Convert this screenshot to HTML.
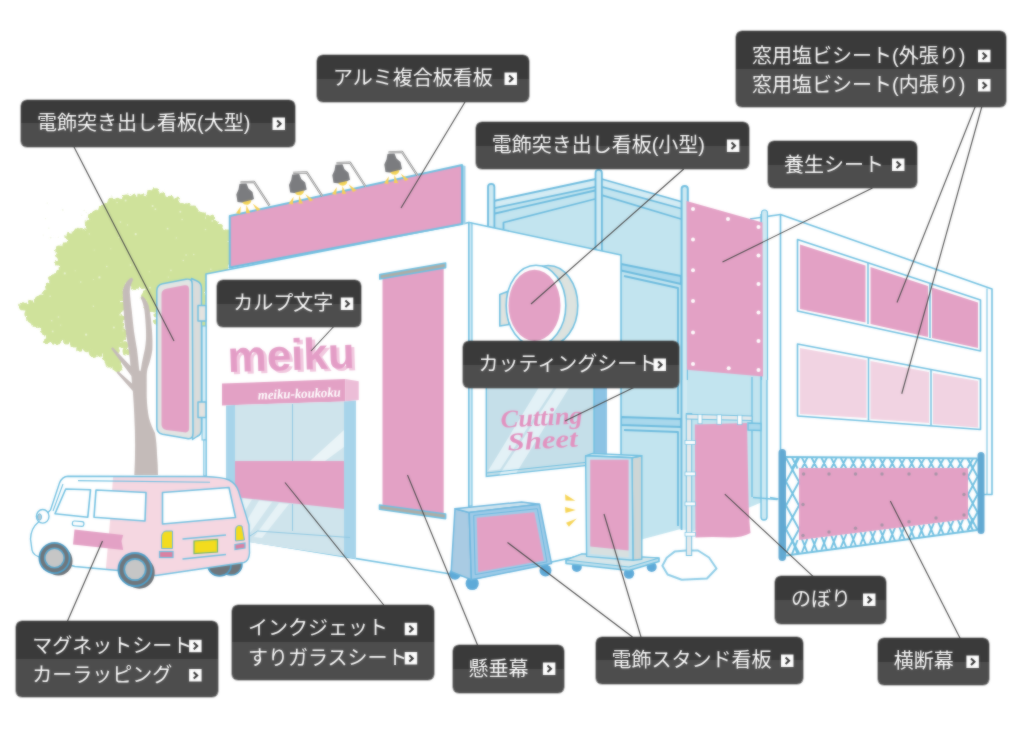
<!DOCTYPE html>
<html lang="ja"><head><meta charset="utf-8"><title>看板・サイン イラストマップ</title>
<style>
html,body{margin:0;padding:0;background:#fff}
body{width:1024px;height:735px;position:relative;overflow:hidden;font-family:"Liberation Sans","Noto Sans CJK JP",sans-serif}
#map{position:absolute;left:0;top:0;width:1024px;height:735px;overflow:hidden;filter:url(#soft)}
#illus{position:absolute;left:0;top:0}
.lb{position:absolute;display:block;border-radius:6px;box-sizing:border-box;
 background:linear-gradient(#3a3a3a 0,#3a3a3a 50%,#4d4d4d 50%,#4d4d4d 100%);
 box-shadow:0 0 0 0.6px rgba(40,40,40,.55);text-decoration:none;overflow:hidden}
.lb svg{position:absolute;left:0;top:0;fill:#fff}
.lb svg .ch{fill:none;stroke:#333;stroke-width:2}
.lb span{position:absolute;left:16px;font-size:20px;line-height:24px;white-space:nowrap;color:#fff;font-family:"Liberation Sans","Noto Sans CJK JP",sans-serif}
</style></head><body>
<svg width="0" height="0" style="position:absolute"><filter id="soft" x="0" y="0" width="100%" height="100%" color-interpolation-filters="sRGB"><feGaussianBlur stdDeviation="0.85" result="b"/><feComposite in="SourceGraphic" in2="b" operator="arithmetic" k1="0" k2="0.45" k3="0.55" k4="0"/></filter></svg>
<div id="map">
<svg id="illus" width="1024" height="735" viewBox="0 0 1024 735">
<defs>
<filter id="rough" x="-5%" y="-5%" width="110%" height="110%"><feTurbulence type="fractalNoise" baseFrequency="0.2" numOctaves="2" seed="3" result="n"/><feDisplacementMap in="SourceGraphic" in2="n" scale="5" xChannelSelector="R" yChannelSelector="G"/></filter>
</defs>
<g filter="url(#rough)" fill="#cfe29b"><polygon points="155.781,193.52 171.393,198.293 187.999,207.959 203.719,216.625 214.556,224.367 227.426,232.102 227.217,268.308 203.213,272.268 203.527,328.687 197.565,328.617 157,322 152,298 142,285 125,281 121,292 119,312 121,338 118,352 116,366 110.113,365.202 105.311,354.217 92.7903,351.314 79.2796,347.509 65.7452,340.81 46.1028,340.151 42.2989,330.401 34.4751,322.691 26.6066,314.977 23.687,307.212 31.7008,303.261 45.7528,293.488 53.7984,282.905 60.7648,272.442 57.6647,262.86 58.4307,249.39 65.24,244.68 68.972,235.988 87.2547,228.503 92.8573,216.666 102.431,209.767 113.017,201.8 126.566,197.766 142.091,197.648"/><circle cx="155.3" cy="192.5" r="4.3"/><circle cx="162.3" cy="196.0" r="3.5"/><circle cx="170.1" cy="198.3" r="2.6"/><circle cx="176.7" cy="200.2" r="2.7"/><circle cx="182.2" cy="205.7" r="2.8"/><circle cx="187.2" cy="208.3" r="5.1"/><circle cx="193.5" cy="210.5" r="5.1"/><circle cx="197.1" cy="214.8" r="3.3"/><circle cx="202.7" cy="215.5" r="3.3"/><circle cx="210.1" cy="219.5" r="4.1"/><circle cx="215.0" cy="224.0" r="4.0"/><circle cx="219.7" cy="226.9" r="3.1"/><circle cx="228.0" cy="231.9" r="3.3"/><circle cx="227.6" cy="238.0" r="3.3"/><circle cx="228.2" cy="244.8" r="3.2"/><circle cx="227.5" cy="250.3" r="4.9"/><circle cx="228.0" cy="255.6" r="5.1"/><circle cx="226.1" cy="262.0" r="4.5"/><circle cx="226.2" cy="268.3" r="2.6"/><circle cx="221.7" cy="270.1" r="4.0"/><circle cx="216.3" cy="269.7" r="4.4"/><circle cx="209.5" cy="271.5" r="3.7"/><circle cx="204.2" cy="273.6" r="3.8"/><circle cx="203.7" cy="276.6" r="4.4"/><circle cx="203.7" cy="285.0" r="4.7"/><circle cx="202.7" cy="288.9" r="4.3"/><circle cx="201.9" cy="294.7" r="3.0"/><circle cx="202.2" cy="299.2" r="4.6"/><circle cx="202.3" cy="305.4" r="3.6"/><circle cx="204.5" cy="310.5" r="3.7"/><circle cx="203.6" cy="318.6" r="4.7"/><circle cx="204.6" cy="322.4" r="3.6"/><circle cx="203.1" cy="329.8" r="5.1"/><circle cx="196.5" cy="327.6" r="3.1"/><circle cx="191.0" cy="327.6" r="4.1"/><circle cx="185.3" cy="325.2" r="3.6"/><circle cx="179.8" cy="326.0" r="5.1"/><circle cx="175.0" cy="324.9" r="4.2"/><circle cx="169.1" cy="322.6" r="4.9"/><circle cx="163.6" cy="324.1" r="4.7"/><circle cx="156.7" cy="321.7" r="2.8"/><circle cx="156.2" cy="314.7" r="2.7"/><circle cx="153.6" cy="309.0" r="3.4"/><circle cx="151.9" cy="302.5" r="2.9"/><circle cx="150.8" cy="297.6" r="2.6"/><circle cx="148.1" cy="291.8" r="2.9"/><circle cx="141.3" cy="284.5" r="3.5"/><circle cx="135.2" cy="284.7" r="5.2"/><circle cx="130.6" cy="282.3" r="2.7"/><circle cx="123.8" cy="280.5" r="3.2"/><circle cx="124.0" cy="285.5" r="2.6"/><circle cx="122.4" cy="292.1" r="2.9"/><circle cx="120.5" cy="297.2" r="3.9"/><circle cx="121.1" cy="306.4" r="4.4"/><circle cx="118.3" cy="311.6" r="3.0"/><circle cx="120.3" cy="318.6" r="4.6"/><circle cx="119.5" cy="324.2" r="4.7"/><circle cx="122.0" cy="332.6" r="4.7"/><circle cx="122.0" cy="338.7" r="3.1"/><circle cx="119.6" cy="344.6" r="2.6"/><circle cx="116.6" cy="351.3" r="3.2"/><circle cx="117.6" cy="360.4" r="3.7"/><circle cx="117.3" cy="367.5" r="5.1"/><circle cx="109.7" cy="364.4" r="3.1"/><circle cx="106.8" cy="358.8" r="4.2"/><circle cx="106.5" cy="355.2" r="3.8"/><circle cx="99.5" cy="353.7" r="2.7"/><circle cx="93.3" cy="352.5" r="4.6"/><circle cx="86.8" cy="349.3" r="3.0"/><circle cx="80.1" cy="347.0" r="4.7"/><circle cx="73.9" cy="343.8" r="3.6"/><circle cx="67.1" cy="341.5" r="3.0"/><circle cx="58.1" cy="339.5" r="4.9"/><circle cx="53.6" cy="339.3" r="4.7"/><circle cx="47.5" cy="340.6" r="3.4"/><circle cx="42.4" cy="329.3" r="2.5"/><circle cx="35.9" cy="323.1" r="3.9"/><circle cx="31.8" cy="318.6" r="4.9"/><circle cx="27.6" cy="314.1" r="3.2"/><circle cx="23.1" cy="306.4" r="4.1"/><circle cx="31.0" cy="303.0" r="2.9"/><circle cx="37.6" cy="299.6" r="3.7"/><circle cx="41.3" cy="298.0" r="3.6"/><circle cx="47.0" cy="293.5" r="3.9"/><circle cx="49.8" cy="286.8" r="3.7"/><circle cx="52.8" cy="281.4" r="4.7"/><circle cx="56.3" cy="277.6" r="4.5"/><circle cx="60.9" cy="271.9" r="3.9"/><circle cx="57.8" cy="263.7" r="2.8"/><circle cx="58.2" cy="255.4" r="3.2"/><circle cx="59.2" cy="249.4" r="4.0"/><circle cx="66.0" cy="245.9" r="3.7"/><circle cx="69.3" cy="236.0" r="3.9"/><circle cx="75.6" cy="233.3" r="3.9"/><circle cx="81.1" cy="232.3" r="4.4"/><circle cx="88.4" cy="229.8" r="3.2"/><circle cx="90.2" cy="223.9" r="4.8"/><circle cx="91.8" cy="215.5" r="3.7"/><circle cx="96.4" cy="212.4" r="2.7"/><circle cx="102.9" cy="210.6" r="4.9"/><circle cx="106.7" cy="206.4" r="4.3"/><circle cx="111.9" cy="202.9" r="5.1"/><circle cx="119.0" cy="201.1" r="3.6"/><circle cx="126.5" cy="199.2" r="4.7"/><circle cx="133.3" cy="197.5" r="3.9"/><circle cx="141.6" cy="196.7" r="3.4"/><circle cx="149.6" cy="194.1" r="4.0"/><circle cx="147" cy="296" r="6"/><circle cx="150" cy="306" r="6"/><circle cx="126" cy="300" r="4"/><circle cx="124" cy="345" r="4"/><circle cx="126" cy="352" r="3.5"/></g>
<g fill="#eef5dc" opacity=".8"><circle cx="117.1" cy="202.5" r="0.7"/><circle cx="149.2" cy="271.7" r="0.5"/><circle cx="212.4" cy="310.4" r="1.1"/><circle cx="58.3" cy="237.2" r="0.5"/><circle cx="176.3" cy="237.9" r="0.6"/><circle cx="113.9" cy="327.6" r="1.0"/><circle cx="85.3" cy="220.9" r="1.1"/><circle cx="139.9" cy="298.1" r="0.6"/><circle cx="50.1" cy="296.3" r="0.8"/><circle cx="52.7" cy="331.4" r="0.9"/><circle cx="180.3" cy="211.7" r="1.0"/><circle cx="51.7" cy="320.8" r="0.8"/><circle cx="99.4" cy="277.4" r="1.1"/><circle cx="86.9" cy="218.1" r="0.8"/><circle cx="81.7" cy="215.3" r="0.6"/><circle cx="48.8" cy="228.2" r="0.7"/><circle cx="93.4" cy="306.3" r="0.7"/><circle cx="127.5" cy="224.9" r="0.7"/><circle cx="43.2" cy="235.1" r="0.5"/><circle cx="168.3" cy="277.1" r="0.6"/><circle cx="123.1" cy="330.8" r="0.6"/><circle cx="183.3" cy="260.5" r="0.8"/><circle cx="186.1" cy="255.0" r="0.8"/><circle cx="160.4" cy="337.5" r="0.7"/><circle cx="185.7" cy="298.9" r="0.9"/><circle cx="110.8" cy="248.7" r="0.5"/><circle cx="62.7" cy="209.9" r="0.9"/><circle cx="84.7" cy="222.9" r="0.6"/><circle cx="187.2" cy="321.9" r="0.9"/><circle cx="89.3" cy="233.9" r="0.7"/><circle cx="120.4" cy="222.1" r="0.8"/><circle cx="86.1" cy="334.7" r="1.1"/><circle cx="135.7" cy="234.2" r="1.1"/><circle cx="94.2" cy="249.9" r="0.5"/><circle cx="106.8" cy="266.5" r="0.8"/><circle cx="75.2" cy="270.7" r="0.5"/><circle cx="86.2" cy="212.6" r="0.7"/><circle cx="47.3" cy="203.1" r="0.7"/><circle cx="80.7" cy="282.0" r="0.8"/><circle cx="171.3" cy="292.1" r="0.9"/><circle cx="193.8" cy="254.5" r="0.7"/><circle cx="212.3" cy="220.9" r="0.9"/><circle cx="152.6" cy="206.1" r="1.0"/><circle cx="196.1" cy="287.8" r="0.9"/><circle cx="182.1" cy="219.5" r="0.8"/><circle cx="128.3" cy="316.9" r="1.0"/><circle cx="184.6" cy="281.8" r="1.0"/><circle cx="159.5" cy="297.1" r="0.6"/><circle cx="45.5" cy="218.6" r="0.7"/><circle cx="58.4" cy="317.0" r="0.8"/><circle cx="149.9" cy="287.7" r="0.9"/><circle cx="125.6" cy="200.5" r="1.0"/><circle cx="170.9" cy="270.4" r="0.8"/><circle cx="155.4" cy="209.2" r="0.9"/><circle cx="84.1" cy="210.4" r="0.7"/><circle cx="167.6" cy="228.7" r="0.9"/><circle cx="210.8" cy="269.2" r="0.7"/><circle cx="123.8" cy="295.7" r="1.0"/><circle cx="148.0" cy="290.0" r="0.5"/><circle cx="65.8" cy="235.6" r="0.9"/><circle cx="93.3" cy="279.5" r="0.5"/><circle cx="50.6" cy="237.6" r="0.9"/><circle cx="161.1" cy="294.6" r="0.7"/><circle cx="130.4" cy="265.1" r="0.8"/><circle cx="60.7" cy="325.1" r="0.6"/><circle cx="211.2" cy="331.1" r="0.5"/><circle cx="120.3" cy="314.8" r="1.1"/><circle cx="118.7" cy="237.6" r="0.6"/><circle cx="205.5" cy="229.5" r="0.8"/><circle cx="64.8" cy="273.4" r="1.1"/></g>
<path fill="#c4bbb9" d="M134.3 475 C135.5 455 135.3 435 134.3 416 C133.8 405 133.3 397 132.8 391 L116.5 372.5 L118 371 L132 383.5 L131.4 376 L111 348.5 L112.8 347.2 L130.5 366 C130 360 129.3 355 128.6 349.5 C127.5 343 126.5 337 125.7 331.6 C124.8 325 124 318 123.7 311 C123.2 304 122.8 297 122.7 291 C124 285 127 280 131.5 277.5 L133.3 279.3 C131 284 129.8 288 129.8 292 C130.3 298 131 305 131.8 311 C132.5 318 133.2 325 134 331.6 C135 338 136 344 137 349.5 C137.8 356 138.5 362 139 368 C139.5 372 140.5 372.5 141 368.6 C142 362 143.5 355 144.8 349.5 C146 343 146.3 337 146 331 C145.7 323 145.2 317 144.5 311 C143.8 306 142.5 301 140.5 297.5 L142.3 296 C145 298 147 301 148.5 305 C150 310 151.2 320 152 331 C152.5 338 152.6 344 152.4 349.5 C151.5 357 149.5 363 147.6 368.6 C146.8 372 146.7 375 146.7 378 C146.7 385 146.7 391 146.7 397 C147 405 147.8 412 149 418 C150.5 424 153 429 155 433 C156.2 440 156.8 447 157 454 C157.5 461 158 468 158 475 Z"/>
<g stroke="#6bbadd" stroke-width="1.8" stroke-linejoin="round">
<polygon fill="#c2e4ef" stroke="none" points="491,202 598,178.5 684.5,203 684.5,528 621,545 621,255 491,228"/>
<polygon fill="#d4ecf4" points="491,201.5 598,178.5 598,186.3 491,208.8"/>
<polygon fill="#d4ecf4" points="600,178.5 684.5,202.5 684.5,209.5 600,186.3"/>
<polyline fill="none" points="495,213.5 595,190.5"/>
<polyline fill="none" points="503.5,229 503.5,222.5 595,199"/>
<polyline fill="none" points="602.5,195.3 681,219"/>
<path fill="#cfeaf3" d="M488 228V187a3.2 3.2 0 0 1 6.4 0V228"/>
<path fill="#cfeaf3" d="M595.5 252V173a3.2 3.2 0 0 1 6.4 0V252"/>
<path fill="#cfeaf3" d="M681.5 530V189a3.2 3.2 0 0 1 6.4 0V530"/>
<polygon fill="#a9d8ec" points="621,264 681,276 681,284 621,270.5"/>
<polyline fill="none" points="624,276 678,288 678,414"/>
<polygon fill="#a9d8ec" points="621,417 681,419 681,427 621,425"/>
<polyline fill="none" points="624,430 678,432 678,526"/>
</g>
<g stroke="#6fbfe0" stroke-width="1.4">
<polygon fill="#c2e4ef" stroke="none" points="687,368 767,375 767,500 687,534"/>
<path fill="none" d="M752 377V497"/>
<path fill="#cdeaf4" d="M761 214V517a3 3 0 0 0 6 0V214"/>
<polygon fill="#a9d8ec" points="748,423 761,423.5 761,430.5 748,430"/>
<path fill="none" d="M753 497.5L777.5 499.5"/>
</g>
<g stroke="#6fbfe0" stroke-width="1.6" fill="#fff" stroke-linejoin="round">
<polyline points="780.5,450 780.5,214.5 992,289 992,494.5 984,494.5"/>
<polyline fill="none" points="770,497.5 778.5,499"/>
<polyline fill="none" stroke-width="1.1" points="987,288.5 987,494"/>
<polyline fill="none" points="750,219 780.5,214.5"/>
<polygon points="797.5,239.5 980.5,300 980.5,351 797.5,311"/>
<polygon points="797.5,344 980.5,379 980.5,429.5 797.5,416"/>
</g>
<polygon fill="#e3a1c5" points="800,244.5 865.5,265.5 865.5,322.5 800,309"/>
<polygon fill="#e3a1c5" points="870.5,267 928,286 928,337 870.5,324"/>
<polygon fill="#e3a1c5" points="932,287.5 978,302.5 978,348 932,338"/>
<polygon fill="#f1d3e2" points="800,348 866.5,360 866.5,418 800,414"/>
<polygon fill="#f1d3e2" points="870.5,361 929,372 929,423 870.5,419"/>
<polygon fill="#f1d3e2" points="933,373 978,381 978,427.5 933,424"/>
<g stroke="#6fbfe0" stroke-width="1.5"><path d="M868 263V324M930 284V338M868.5 357.5V420.5M931 369.5V425.5"/></g>
<path fill="#cfeaf3" stroke="#6fbfe0" stroke-width="1.2" d="M682 380V189a2.7 2.7 0 0 1 5.4 0V380"/>
<path fill="#cfeaf3" stroke="#6fbfe0" stroke-width="1.2" d="M761.5 380V213a3 3 0 0 1 6 0V380"/>
<polygon fill="#e3a1c5" points="686.5,201 762.5,222.5 763,376.5 687,369.7"/>
<g fill="#fff"><circle cx="693" cy="209" r="2"/><circle cx="693" cy="239.6" r="2"/><circle cx="693" cy="270.3" r="2"/><circle cx="693" cy="301" r="2"/><circle cx="693" cy="332.4" r="2"/><circle cx="693" cy="364" r="2"/><circle cx="728" cy="219" r="2"/><circle cx="758.5" cy="227" r="2"/><circle cx="758.5" cy="255.4" r="2"/><circle cx="758.5" cy="284" r="2"/><circle cx="758.5" cy="312.5" r="2"/><circle cx="758.5" cy="341" r="2"/><circle cx="758.5" cy="370" r="2"/><circle cx="728.7" cy="368.3" r="2"/></g>
<g stroke="#6fbfe0" stroke-width="1.6" fill="#fff" stroke-linejoin="round">
<polygon points="206,274 469,222.5 469,577 206,534"/>
<polygon points="469,222.5 621,255 621,547 469,580"/>
</g>
<path fill="#d4ecf6" stroke="#6fbfe0" stroke-width="1.1" d="M469 222.5L472 223.2V506H469Z"/>
<rect x="202" y="326" width="4" height="114" fill="#d9eff7" stroke="#6fbfe0" stroke-width="1"/><rect x="203.8" y="440" width="2.2" height="36" fill="#e6f4fa" stroke="#6fbfe0" stroke-width="1"/>
<polygon fill="#9fd0e8" points="462,165 465.5,166 465.5,224.5 462,224"/>
<polygon fill="#e3a1c5" stroke="#6fbfe0" stroke-width="2" stroke-linejoin="round" points="229.75,216 462,165 462,224 229.75,267.5"/>
<g transform="translate(236,182.5)"><path fill="none" stroke="#8d8d8d" stroke-width="2.2" stroke-linejoin="round" d="M4.5 -0.2L18 -0.6L33.5 23.2"/><path fill="none" stroke="#f4f4f4" stroke-width=".7" d="M4.5 -0.2L18 -0.6L33.5 23.2"/><path fill="#7b7c7f" d="M3.5 1.5L10.5 1L12.5 6L16.5 9.5L18 16.5L9.5 20.5L1.5 19.5L0.3 12L2.5 7Z"/><path fill="#f4d455" d="M6.2 19.8L15.2 17.6Q15.5 21 12 22.2Q8 23 6.2 19.8Z"/><g fill="#f6d055"><polygon points="4.8,23.8 0,30.8 4.2,31.4"/><polygon points="10.4,22.6 10,30.6 14.2,30.4"/><polygon points="16.6,21 21,28.6 24.6,27"/></g></g>
<g transform="translate(288.7,173)"><path fill="none" stroke="#8d8d8d" stroke-width="2.2" stroke-linejoin="round" d="M4.5 -0.2L18 -0.6L33.5 23.2"/><path fill="none" stroke="#f4f4f4" stroke-width=".7" d="M4.5 -0.2L18 -0.6L33.5 23.2"/><path fill="#7b7c7f" d="M3.5 1.5L10.5 1L12.5 6L16.5 9.5L18 16.5L9.5 20.5L1.5 19.5L0.3 12L2.5 7Z"/><path fill="#f4d455" d="M6.2 19.8L15.2 17.6Q15.5 21 12 22.2Q8 23 6.2 19.8Z"/><g fill="#f6d055"><polygon points="4.8,23.8 0,30.8 4.2,31.4"/><polygon points="10.4,22.6 10,30.6 14.2,30.4"/><polygon points="16.6,21 21,28.6 24.6,27"/></g></g>
<g transform="translate(332,163.3)"><path fill="none" stroke="#8d8d8d" stroke-width="2.2" stroke-linejoin="round" d="M4.5 -0.2L18 -0.6L33.5 23.2"/><path fill="none" stroke="#f4f4f4" stroke-width=".7" d="M4.5 -0.2L18 -0.6L33.5 23.2"/><path fill="#7b7c7f" d="M3.5 1.5L10.5 1L12.5 6L16.5 9.5L18 16.5L9.5 20.5L1.5 19.5L0.3 12L2.5 7Z"/><path fill="#f4d455" d="M6.2 19.8L15.2 17.6Q15.5 21 12 22.2Q8 23 6.2 19.8Z"/><g fill="#f6d055"><polygon points="4.8,23.8 0,30.8 4.2,31.4"/><polygon points="10.4,22.6 10,30.6 14.2,30.4"/><polygon points="16.6,21 21,28.6 24.6,27"/></g></g>
<g transform="translate(384,152.5)"><path fill="none" stroke="#8d8d8d" stroke-width="2.2" stroke-linejoin="round" d="M4.5 -0.2L18 -0.6L33.5 23.2"/><path fill="none" stroke="#f4f4f4" stroke-width=".7" d="M4.5 -0.2L18 -0.6L33.5 23.2"/><path fill="#7b7c7f" d="M3.5 1.5L10.5 1L12.5 6L16.5 9.5L18 16.5L9.5 20.5L1.5 19.5L0.3 12L2.5 7Z"/><path fill="#f4d455" d="M6.2 19.8L15.2 17.6Q15.5 21 12 22.2Q8 23 6.2 19.8Z"/><g fill="#f6d055"><polygon points="4.8,23.8 0,30.8 4.2,31.4"/><polygon points="10.4,22.6 10,30.6 14.2,30.4"/><polygon points="16.6,21 21,28.6 24.6,27"/></g></g>
<g stroke="#6fbfe0" stroke-width="1.5" stroke-linejoin="round">
<path fill="#d9dcdb" d="M191.5 278.5L197 281Q201.5 283 201.5 288V430Q201.5 434.5 197 436.5L192.5 439.5Z"/>
<rect x="198" y="305.5" width="8" height="15.5" fill="#e3e3e0"/><rect x="198" y="402" width="8" height="15.5" fill="#e3e3e0"/>
<path fill="#e2e5e3" d="M156.8 291Q156.8 285 162.5 283.8L186 279.3Q192 278.2 192.2 284L193 433Q193 439.8 187 438.6L162.5 434.2Q156.8 433 156.8 427Z"/>
</g>
<path fill="#e3a1c5" d="M161.5 294.5Q161.5 289.6 166.3 288.7L184.3 285.3Q189.1 284.4 189.1 289.4V428Q189.1 433 184.3 432.3L166.3 429.9Q161.5 429.2 161.5 424.3Z"/>
<g transform="rotate(-1.9 292 370)"><text transform="translate(3,2.2)" x="228" y="370" font-family="'Liberation Sans',sans-serif" font-weight="bold" font-size="44" fill="#f1c7de">meiku</text><text x="228" y="370" font-family="'Liberation Sans',sans-serif" font-weight="bold" font-size="44" fill="#e39dc6">meiku</text></g>
<polygon fill="#e3a1c5" points="222,383.6 345.5,379 345.5,401.5 222,405.5"/>
<polygon fill="#ecbdd7" points="345.5,379 358.75,381.25 358.75,400 345.5,401.5"/>
<text transform="rotate(-2.1 300 398)" x="258" y="398" font-family="'Liberation Serif',serif" font-style="italic" font-weight="bold" font-size="13.5" textLength="83" lengthAdjust="spacingAndGlyphs" fill="#fff">meiku-koukoku</text>
<polygon fill="#a7d4ea" points="226,405.5 235,405 235,540 226,537.5"/>
<polygon fill="#a7d4ea" points="344,401.5 356,400.5 356,559 344,556.5"/>
<polygon fill="#cfe4ec" points="235,405 344,401.5 344,556.5 235,540"/>
<polygon fill="#eaf4f7" points="344,430 344,447 325,461 310,461"/>
<polygon fill="#e6f2f6" points="243,498.5 252,499.5 238,522 236,518"/>
<polygon fill="#e6f2f6" points="259,500.5 272,502 247,537 238,535"/>
<polygon fill="#e6f2f6" points="279,503 289,504 262,538 254,537"/>
<path stroke="#8fc8e2" stroke-width="1" fill="none" d="M292.5 404V461M292.5 504V531M250 536L257.5 531L350 537.5"/>
<polygon fill="#e3a1c5" points="235,461 344,461 344,509 235,497"/>
<polygon fill="#e3a1c5" points="382.5,278 443.7,267 443.7,515 382.5,506"/>
<polygon fill="#b0aca4" stroke="#6fbfe0" stroke-width="1.6" stroke-linejoin="round" points="379.8,274.6 445.6,263 445.6,267.6 379.8,279"/>
<polygon fill="#b0aca4" stroke="#6fbfe0" stroke-width="1.6" stroke-linejoin="round" points="379.5,505 445.6,514 445.6,518.6 379.5,509.3"/>
<g stroke="#6fbfe0" stroke-width="1.6" stroke-linejoin="round">
<polygon points="499.8,294.5 507.5,291.5 509,324.5 499.8,326" fill="#dfe3df"/>
<ellipse cx="548.3" cy="305.5" rx="29.5" ry="40" fill="#dde3df"/>
<ellipse cx="536" cy="305.5" rx="29.8" ry="40.3" fill="#fff"/>
</g>
<ellipse cx="534.5" cy="305.4" rx="26" ry="35.6" fill="#e3a1c5"/>
<polygon fill="#8cc3e4" points="594,370 607,370 607,462 594,464.5"/>
<polygon fill="#c5dfe9" stroke="#6fbfe0" stroke-width="1.4" points="486.3,370 594,370 594,464.7 486.3,476.4"/>
<polygon fill="#e3f1f6" points="538.5,388 553.5,388 500,469.5 488,471"/>
<polygon fill="#e3f1f6" points="556.5,388 569,388 516.5,472.5 499.5,474.5"/>
<polyline fill="none" stroke="#6fbfe0" stroke-width="1" points="486.3,473 594,461.5"/>
<g fill="#e291bf" font-family="'Liberation Serif',serif" font-style="italic" font-weight="bold" font-size="25"><text transform="rotate(-3 542 425)" x="501" y="425.5" textLength="82" lengthAdjust="spacingAndGlyphs">Cutting</text><text transform="rotate(-3.3 543 448)" x="508" y="448.5" textLength="70" lengthAdjust="spacingAndGlyphs">Sheet</text></g>
<g fill="#5eaad8"><circle cx="472.2" cy="583.5" r="6.6"/><circle cx="545.5" cy="570.5" r="6"/><circle cx="455" cy="574" r="5.8"/></g>
<g stroke="#6db7de" stroke-width="1.5" stroke-linejoin="round">
<polygon fill="#a9cbe3" points="455,508.7 469.2,512.5 471.4,579.8 451.2,571.6"/>
<polygon fill="#cfe3ee" points="455,508.7 521.6,502 539.5,504.2 469.2,512.5"/>
<polygon fill="#9fcbe8" points="469.2,512.5 539.5,504.2 551.5,563.4 471.4,579.8"/>
<polygon fill="none" stroke-width="1" points="473.7,515.4 537.3,508.7 547,561.9 475.2,574.6"/>
</g>
<polygon fill="#e3a1c5" points="476.7,517.7 534.3,512.2 544,560.4 478.2,572"/>
<g fill="#5eaad8"><circle cx="576.8" cy="567" r="5"/><circle cx="629" cy="573.5" r="5.2"/><circle cx="651.7" cy="567" r="5"/></g>
<polygon fill="#bfe0ee" stroke="#6fbfe0" stroke-width="1.6" stroke-linejoin="round" points="566,560 582,554 659,558 659,561.5 629,570.5 566,563.5"/>
<polygon fill="#d6e6ea" stroke="#6fbfe0" stroke-width="1.2" stroke-linejoin="round" points="566,560 582,554 659,558 629,567"/>
<g stroke="#6fbfe0" stroke-width="1.4" stroke-linejoin="round">
<polygon fill="#cdd6d6" points="632,457.7 641.8,455.8 641.8,559.3 633,560.3"/>
<polygon fill="#dbeef5" points="585.6,455.8 592.5,453.4 641.8,455.8 632,457.7"/>
<polygon fill="#c4e2ee" points="585.6,455.8 632,457.7 633,560.3 586.6,556.4"/>
</g>
<polygon fill="#d7e0e0" points="590.2,546.5 628.6,550.4 628.6,557.5 590.2,553.8"/>
<polygon fill="#e3a1c5" points="590.2,459.7 628.6,459.7 628.6,550.4 590.2,546.5"/>
<g fill="#f6d455"><polygon points="565,494.2 575.4,500.7 565.5,500.4"/><polygon points="565,507 575.8,510 565.5,513"/><polygon points="576.8,518.5 566,522.8 568.9,526.8"/></g>
<path fill="#fff" stroke="#8bcbe6" stroke-width="2" stroke-linejoin="round" d="M666.7 557.8L674.6 551.6L686 550.5H698L709 557.5L716.5 568.5L707 578.5L681.7 579.8L667.6 574.5L662.4 565.7Z"/>
<g stroke="#6fbfe0" stroke-width="1" fill="#e6eaec"><rect x="686.3" y="413.5" width="5.4" height="142"/><polygon points="686.3,414.2 752,416 752,420.5 686.3,419"/></g>
<path fill="#e3a1c5" d="M694.8 424.5L747 422.9L748.5 499Q749 520 750.5 533Q742 537.5 730 537.5Q712 536.5 695.5 537.5Z"/>
<g fill="#fff" stroke="#6fbfe0" stroke-width=".7"><rect x="698" y="414.3" width="4" height="9.5"/><rect x="717" y="414.8" width="4.5" height="9.5"/><rect x="737.5" y="415.2" width="4.5" height="9.5"/><rect x="685" y="440.5" width="10.5" height="3.8"/><rect x="685" y="472" width="10.5" height="3.8"/><rect x="685" y="502" width="10.5" height="3.8"/><rect x="685" y="532.3" width="10.5" height="3.8"/></g>
<g stroke="#6fbfe0" stroke-width="1.9" fill="none" stroke="#69b4da"><path stroke-width="2" d="M786 457L977.5 458.5M786 555.5L977.5 530"/><path d="M792.1 457.6L797.6 468.5M797.6 457.6L792.1 468.5M801.9 457.6L807.3 468.5M807.3 457.6L801.9 468.5M811.6 457.7L817.1 468.5M817.1 457.7L811.6 468.5M821.4 457.8L826.8 468.5M826.8 457.8L821.4 468.5M831.1 457.9L836.5 468.5M836.5 457.9L831.1 468.5M840.8 458.0L846.3 468.5M846.3 458.0L840.8 468.5M850.6 458.0L856.0 468.5M856.0 458.0L850.6 468.5M860.3 458.1L865.8 468.5M865.8 458.1L860.3 468.5M870.0 458.2L875.5 468.5M875.5 458.2L870.0 468.5M879.8 458.3L885.2 468.5M885.2 458.3L879.8 468.5M889.5 458.3L895.0 468.5M895.0 458.3L889.5 468.5M899.2 458.4L904.7 468.5M904.7 458.4L899.2 468.5M909.0 458.5L914.4 468.5M914.4 458.5L909.0 468.5M918.7 458.6L924.2 468.5M924.2 458.6L918.7 468.5M928.5 458.6L933.9 468.5M933.9 458.6L928.5 468.5M938.2 458.7L943.6 468.5M943.6 458.7L938.2 468.5M947.9 458.8L953.4 468.5M953.4 458.8L947.9 468.5M957.7 458.9L963.1 468.5M963.1 458.9L957.7 468.5M967.4 458.9L972.9 468.5M972.9 458.9L967.4 468.5"/><path d="M792.1 553.8L797.6 540.0M797.6 553.8L792.1 540.0M801.9 552.5L807.3 538.8M807.3 552.5L801.9 538.8M811.6 551.2L817.1 537.6M817.1 551.2L811.6 537.6M821.4 549.9L826.8 536.4M826.8 549.9L821.4 536.4M831.1 548.6L836.5 535.2M836.5 548.6L831.1 535.2M840.8 547.3L846.3 534.0M846.3 547.3L840.8 534.0M850.6 546.0L856.0 532.8M856.0 546.0L850.6 532.8M860.3 544.7L865.8 531.5M865.8 544.7L860.3 531.5M870.0 543.4L875.5 530.3M875.5 543.4L870.0 530.3M879.8 542.2L885.2 529.1M885.2 542.2L879.8 529.1M889.5 540.9L895.0 527.9M895.0 540.9L889.5 527.9M899.2 539.6L904.7 526.7M904.7 539.6L899.2 526.7M909.0 538.3L914.4 525.5M914.4 538.3L909.0 525.5M918.7 537.0L924.2 524.3M924.2 537.0L918.7 524.3M928.5 535.7L933.9 523.1M933.9 535.7L928.5 523.1M938.2 534.4L943.6 521.9M943.6 534.4L938.2 521.9M947.9 533.1L953.4 520.7M953.4 533.1L947.9 520.7M957.7 531.8L963.1 519.4M963.1 531.8L957.7 519.4M967.4 530.5L972.9 518.2M972.9 530.5L967.4 518.2"/><path d="M786 458.0L799 481.8M799 458.0L786 481.8M786 481.8L799 505.5M799 481.8L786 505.5M786 505.5L799 529.2M799 505.5L786 529.2M786 529.2L799 553.0M799 529.2L786 553.0M968 459.0L977.5 476.8M977.5 459.0L968 476.8M968 476.8L977.5 494.5M977.5 476.8L968 494.5M968 494.5L977.5 512.2M977.5 494.5L968 512.2M968 512.2L977.5 530.0M977.5 512.2L968 530.0"/></g><polygon fill="#e3a1c5" points="799,468 968,468 968,519 799,540"/><g fill="#a593a6"><circle cx="803.6" cy="474" r="1.7"/><circle cx="829" cy="474" r="1.7"/><circle cx="855.5" cy="474" r="1.7"/><circle cx="882" cy="474" r="1.7"/><circle cx="909" cy="474" r="1.7"/><circle cx="936" cy="474" r="1.7"/><circle cx="964" cy="474" r="1.7"/><circle cx="803" cy="535.5" r="1.7"/><circle cx="829" cy="532" r="1.7"/><circle cx="855.5" cy="528.3" r="1.7"/><circle cx="882" cy="525" r="1.7"/><circle cx="909" cy="521.7" r="1.7"/><circle cx="936" cy="518" r="1.7"/><circle cx="964" cy="515" r="1.7"/><circle cx="803" cy="504.5" r="1.7"/><circle cx="964" cy="494.5" r="1.7"/></g><rect x="778.5" y="449" width="7.5" height="112" rx="3.7" fill="#62a9d2"/><rect x="977.5" y="452" width="7" height="82" rx="3.5" fill="#62a9d2"/>
<ellipse cx="231" cy="564.5" rx="11" ry="10.5" fill="#70767b" stroke="#4f9dc6" stroke-width="1.5"/><ellipse cx="219.5" cy="565.5" rx="11.5" ry="10.5" fill="#70767b" stroke="#4f9dc6" stroke-width="1.5"/><clipPath id="vanclip"><path d="M68 476.2L205 476.5Q222 477 229 480Q236 483.5 238.5 491L249 525L249.5 553Q249 561 244 562.5L156 575.5L118 570.5L75 566.5L42 557.5Q33 556 32 550L30.5 539Q31 528 38 522.5Q44 516 50.5 510L59.5 483Q62 476.5 68 476.2Z"/></clipPath><path d="M68 476.2L205 476.5Q222 477 229 480Q236 483.5 238.5 491L249 525L249.5 553Q249 561 244 562.5L156 575.5L118 570.5L75 566.5L42 557.5Q33 556 32 550L30.5 539Q31 528 38 522.5Q44 516 50.5 510L59.5 483Q62 476.5 68 476.2Z" fill="#fff"/><polygon clip-path="url(#vanclip)" fill="#f5d7e1" points="113.5,470 260,470 260,590 104,590 110,521.6"/><path d="M68 476.2L205 476.5Q222 477 229 480Q236 483.5 238.5 491L249 525L249.5 553Q249 561 244 562.5L156 575.5L118 570.5L75 566.5L42 557.5Q33 556 32 550L30.5 539Q31 528 38 522.5Q44 516 50.5 510L59.5 483Q62 476.5 68 476.2Z" fill="none" stroke="#6fbfe0" stroke-width="1.4" stroke-linejoin="round"/><path fill="none" stroke="#6fbfe0" stroke-width="1.1" d="M78 480.6L210 482.3M63 484L53 511"/><polygon fill="#fff" stroke="#6fbfe0" stroke-width="1.6" stroke-linejoin="round" points="65.7,489 90.5,489.8 87.8,517.2 55,513.7"/><polygon fill="#fff" stroke="#6fbfe0" stroke-width="1.6" stroke-linejoin="round" points="96,490 146,492.5 145,521 94,517.3"/><polygon fill="#fff" stroke="#6fbfe0" stroke-width="1.6" stroke-linejoin="round" points="162.5,492.5 229,487.5 235.5,517.5 162.5,524"/><ellipse cx="42.7" cy="516.3" rx="6.3" ry="6.8" fill="#fff" stroke="#6fbfe0" stroke-width="1.4"/><ellipse cx="39.5" cy="517" rx="2" ry="3.2" fill="#b9c9d3" stroke="#6fbfe0" stroke-width="1"/><rect x="72.4" y="521.3" width="11.5" height="4.8" rx="2" fill="#fff" stroke="#6fbfe0" stroke-width="1.2" transform="rotate(5 78 523.5)"/><polygon fill="#e3a1c5" points="74.5,529.6 123.2,535 121.5,541 123.2,550 73,544.6"/><path d="M161.5 548.5V536.5Q162 531.5 166 531L172.5 531V548.5Z" fill="#f3dc1e" stroke="#6cb5da" stroke-width="1"/><path d="M235.5 541L235.5 530Q235.5 526 238.5 525.5L242 526L244.5 540Z" fill="#f3dc1e" stroke="#6cb5da" stroke-width="1"/><rect x="159.5" y="551.5" width="13.5" height="6" fill="#dd7fa0" stroke="#6fbfe0" stroke-width="1.2"/><polygon points="235,544.5 245,543 245,548 235,549.5" fill="#dd7fa0" stroke="#6fbfe0" stroke-width="1.2"/><polygon points="194,541 217.5,539.5 217.5,552 194,553.5" fill="#f3dc1e" stroke="#6fb56a" stroke-width="1.2"/><path fill="none" stroke="#6fbfe0" stroke-width="1.4" d="M182.5 539L226 535M182.5 559L226 554.5"/><ellipse cx="58.5" cy="561.0" rx="14.0" ry="14.5" fill="#6f757a"/><circle cx="54.5" cy="558" r="16.0" fill="#4f9dc6"/><circle cx="54.5" cy="558" r="14.2" fill="#70767b"/><circle cx="54.5" cy="558" r="10.6" fill="#5aa5cb"/><circle cx="54.5" cy="558" r="9.0" fill="#c6c6c6"/><ellipse cx="139.375" cy="572.78125" rx="15.3125" ry="15.859375" fill="#6f757a"/><circle cx="135" cy="569.5" r="17.5" fill="#4f9dc6"/><circle cx="135" cy="569.5" r="15.53125" fill="#70767b"/><circle cx="135" cy="569.5" r="11.59375" fill="#5aa5cb"/><circle cx="135" cy="569.5" r="9.84375" fill="#c6c6c6"/>
<g stroke="#4a4a4a" stroke-width="1.1" fill="none"><line x1="74" y1="147" x2="174" y2="341"/><line x1="465" y1="102" x2="401" y2="208"/><line x1="683.75" y1="169" x2="531" y2="304"/><line x1="872.5" y1="188" x2="722.5" y2="262"/><line x1="975.5" y1="106" x2="897" y2="302.5"/><line x1="982" y1="106" x2="901.75" y2="393.75"/><line x1="333.75" y1="326.5" x2="311" y2="351"/><line x1="633.75" y1="387.5" x2="565" y2="421"/><line x1="102.5" y1="541" x2="67.5" y2="621"/><line x1="285" y1="482.5" x2="383.75" y2="605"/><line x1="407.5" y1="475" x2="477.5" y2="645"/><line x1="507.5" y1="542.5" x2="632.5" y2="637"/><line x1="604" y1="514" x2="641" y2="637"/><line x1="724.8" y1="494.2" x2="813" y2="576.4"/><line x1="890.3" y1="501" x2="960.2" y2="638.5"/></g>
</svg>
<a class="lb" style="left:21px;top:99.5px;width:274px;height:47.5px"><svg width="274" height="47.5" viewBox="0 0 274 47.5"><path d="M251.5 17.4h12.5v12.5h-12.5z"/><path class="ch" d="M256.1 20.5l3.5 3.2l-3.5 3.2"/></svg><span style="top:11.3px">電飾突き出し看板(大型)</span></a>
<a class="lb" style="left:317px;top:55px;width:211.7px;height:47px"><svg width="211.7" height="47" viewBox="0 0 211.7 47"><path d="M187.5 17.4h12.5v12.5h-12.5z"/><path class="ch" d="M192.1 20.5l3.5 3.2l-3.5 3.2"/></svg><span style="top:11.3px">アルミ複合板看板</span></a>
<a class="lb" style="left:475.7px;top:122px;width:273.7px;height:47.3px"><svg width="273.7" height="47.3" viewBox="0 0 273.7 47.3"><path d="M250.9 17.4h12.5v12.5h-12.5z"/><path class="ch" d="M255.5 20.5l3.5 3.2l-3.5 3.2"/></svg><span style="top:11.3px">電飾突き出し看板(小型)</span></a>
<a class="lb" style="left:768px;top:141.3px;width:149px;height:47.2px"><svg width="149" height="47.2" viewBox="0 0 149 47.2"><path d="M124.0 17.4h12.5v12.5h-12.5z"/><path class="ch" d="M128.6 20.5l3.5 3.2l-3.5 3.2"/></svg><span style="top:11.3px">養生シート</span></a>
<a class="lb" style="left:736px;top:31px;width:269.6px;height:76px"><svg width="269.6" height="76" viewBox="0 0 269.6 76"><path d="M242.0 18.8h12.5v12.5h-12.5z"/><path class="ch" d="M246.6 21.8l3.5 3.2l-3.5 3.2"/><path d="M242.0 48.1h12.5v12.5h-12.5z"/><path class="ch" d="M246.6 51.2l3.5 3.2l-3.5 3.2"/></svg><span style="top:12.6px">窓用塩ビシート(外張り)</span><span style="top:42.0px">窓用塩ビシート(内張り)</span></a>
<a class="lb" style="left:217.2px;top:280px;width:144px;height:46.5px"><svg width="144" height="46.5" viewBox="0 0 144 46.5"><path d="M123.8 17.4h12.5v12.5h-12.5z"/><path class="ch" d="M128.4 20.5l3.5 3.2l-3.5 3.2"/></svg><span style="top:11.3px">カルプ文字</span></a>
<a class="lb" style="left:462.5px;top:341px;width:216.3px;height:46.5px"><svg width="216.3" height="46.5" viewBox="0 0 216.3 46.5"><path d="M190.5 17.4h12.5v12.5h-12.5z"/><path class="ch" d="M195.1 20.5l3.5 3.2l-3.5 3.2"/></svg><span style="top:11.3px">カッティングシート</span></a>
<a class="lb" style="left:16.2px;top:621.2px;width:201.6px;height:76px"><svg width="201.6" height="76" viewBox="0 0 201.6 76"><path d="M173.1 18.8h12.5v12.5h-12.5z"/><path class="ch" d="M177.7 21.8l3.5 3.2l-3.5 3.2"/><path d="M173.1 48.1h12.5v12.5h-12.5z"/><path class="ch" d="M177.7 51.2l3.5 3.2l-3.5 3.2"/></svg><span style="top:12.6px">マグネットシート</span><span style="top:42.0px">カーラッピング</span></a>
<a class="lb" style="left:231.9px;top:604.7px;width:202.1px;height:75.5px"><svg width="202.1" height="75.5" viewBox="0 0 202.1 75.5"><path d="M172.7 17.8h12.5v12.5h-12.5z"/><path class="ch" d="M177.3 20.8l3.5 3.2l-3.5 3.2"/><path d="M172.7 47.1h12.5v12.5h-12.5z"/><path class="ch" d="M177.3 50.2l3.5 3.2l-3.5 3.2"/></svg><span style="top:11.6px">インクジェット</span><span style="top:41.0px">すりガラスシート</span></a>
<a class="lb" style="left:452.6px;top:645.3px;width:111.4px;height:47.5px"><svg width="111.4" height="47.5" viewBox="0 0 111.4 47.5"><path d="M89.9 17.4h12.5v12.5h-12.5z"/><path class="ch" d="M94.5 20.5l3.5 3.2l-3.5 3.2"/></svg><span style="top:11.3px">懸垂幕</span></a>
<a class="lb" style="left:595.6px;top:636.9px;width:207.4px;height:47.5px"><svg width="207.4" height="47.5" viewBox="0 0 207.4 47.5"><path d="M185.0 17.4h12.5v12.5h-12.5z"/><path class="ch" d="M189.6 20.5l3.5 3.2l-3.5 3.2"/></svg><span style="top:11.3px">電飾スタンド看板</span></a>
<a class="lb" style="left:774.9px;top:576.2px;width:111.3px;height:47.8px"><svg width="111.3" height="47.8" viewBox="0 0 111.3 47.8"><path d="M88.0 17.4h12.5v12.5h-12.5z"/><path class="ch" d="M92.6 20.5l3.5 3.2l-3.5 3.2"/></svg><span style="top:11.3px">のぼり</span></a>
<a class="lb" style="left:877.8px;top:638px;width:111.2px;height:47.2px"><svg width="111.2" height="47.2" viewBox="0 0 111.2 47.2"><path d="M88.4 17.4h12.5v12.5h-12.5z"/><path class="ch" d="M93.0 20.5l3.5 3.2l-3.5 3.2"/></svg><span style="top:11.3px">横断幕</span></a>
</div>
</body></html>
